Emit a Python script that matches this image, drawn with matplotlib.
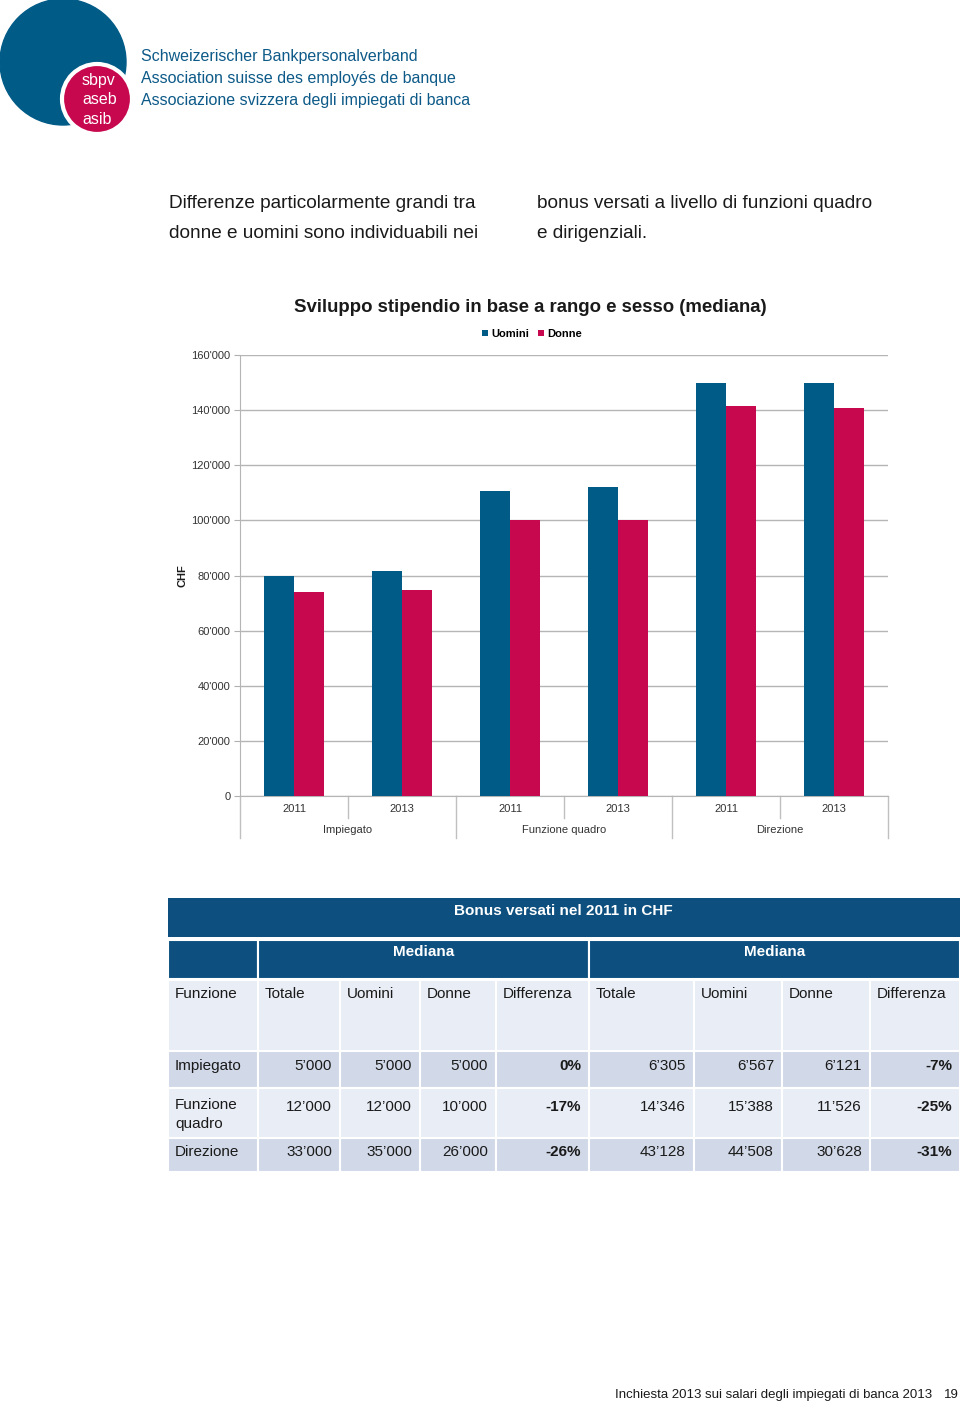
import numpy as np
import matplotlib.pyplot as plt
from matplotlib.patches import Circle, Rectangle
from matplotlib.ticker import FuncFormatter

W, H = 960, 1403
BLUE = '#015b87'
RED = '#c8084e'
TBLUE = '#0d5080'
LIGHT = '#e9edf5'
DARK = '#d1d8e7'

# chart data
groups = ['Impiegato', 'Funzione quadro', 'Direzione']
years = ['2011', '2013', '2011', '2013', '2011', '2013']
uomini = [79800, 81600, 110700, 112100, 149700, 149700]
donne = [74000, 74700, 100000, 100000, 141500, 140800]

# table data
tab_title = 'Bonus versati nel 2011 in CHF'
tab_head = ['Funzione', 'Totale', 'Uomini', 'Donne', 'Differenza',
            'Totale', 'Uomini', 'Donne', 'Differenza']
tab_rows = ['Impiegato', 'Funzione\nquadro', 'Direzione']
tab_vals = [
    ['5’000', '5’000', '5’000', '0%', '6’305', '6’567', '6’121', '-7%'],
    ['12’000', '12’000', '10’000', '-17%', '14’346', '15’388', '11’526', '-25%'],
    ['33’000', '35’000', '26’000', '-26%', '43’128', '44’508', '30’628', '-31%'],
]

plt.rcParams['font.family'] = ['Liberation Sans', 'DejaVu Sans']

fig = plt.figure(figsize=(W / 100, H / 100), dpi=100)
pg = fig.add_axes([0, 0, 1, 1])
pg.set_xlim(0, W)
pg.set_ylim(H, 0)
pg.axis('off')

# logo
pg.add_patch(Circle((63, 62), 63, color=BLUE))
pg.add_patch(Circle((97, 99), 35, facecolor=RED, edgecolor='white', lw=3))
for i, t in enumerate(['sbpv', 'aseb', 'asib']):
    pg.text(82, 81 + i * 19, t, color='white', fontsize=11.5, va='center')
for i, t in enumerate(['Schweizerischer Bankpersonalverband',
                       'Association suisse des employés de banque',
                       'Associazione svizzera degli impiegati di banca']):
    pg.text(141, 57 + i * 21.5, t, color='#0d5a88', fontsize=11.5, va='center')

# intro text
intro = dict(fontsize=13.7, va='center', color='#1a1a1a')
pg.text(169, 203, 'Differenze particolarmente grandi tra', **intro)
pg.text(169, 233, 'donne e uomini sono individuabili nei', **intro)
pg.text(537, 203, 'bonus versati a livello di funzioni quadro', **intro)
pg.text(537, 233, 'e dirigenziali.', **intro)

# chart
ax = fig.add_axes([240 / W, 1 - 796 / H, 648 / W, 441 / H])
x = np.arange(len(years))
b1 = ax.bar(x - 0.14, uomini, 0.28, color=BLUE, label='Uomini', zorder=3)
b2 = ax.bar(x + 0.14, donne, 0.28, color=RED, label='Donne', zorder=3)
ax.set_xlim(-0.5, 5.5)
ax.set_ylim(0, 160000)
ax.set_yticks(range(0, 160001, 20000))
ax.yaxis.set_major_formatter(FuncFormatter(lambda v, p: f"{int(v):,}".replace(',', "'")))
ax.tick_params(axis='y', labelsize=8, colors='#b0b0b0', labelcolor='#333333',
               length=4, pad=3)
ax.set_xticks([])
ax.grid(axis='y', color='#b5b5b5', lw=1, zorder=0)
for s in ['top', 'right']:
    ax.spines[s].set_visible(False)
ax.spines['left'].set_color('#b5b5b5')
ax.spines['bottom'].set_color('#b5b5b5')

tr = ax.get_xaxis_transform()
for i, y in enumerate(years):
    ax.text(i, -0.03, y, transform=tr, ha='center', va='center', fontsize=8,
            color='#333333')
for g, gname in enumerate(groups):
    ax.text(2 * g + 0.5, -0.076, gname, transform=tr, ha='center', va='center',
            fontsize=8, color='#333333')
for xs in [0.5, 2.5, 4.5]:
    ax.plot([xs, xs], [0, -0.05], transform=tr, color='#c0c0c0', lw=1, clip_on=False)
for xs in [-0.5, 1.5, 3.5, 5.5]:
    ax.plot([xs, xs], [0, -0.095], transform=tr, color='#c0c0c0', lw=1, clip_on=False)

pg.text(530, 308, 'Sviluppo stipendio in base a rango e sesso (mediana)',
        fontsize=13.4, fontweight='bold', ha='center', va='center', color='#1a1a1a')
pg.text(182, 576, 'CHF', rotation=90, fontsize=8, fontweight='bold',
        ha='center', va='center', color='#1a1a1a')
fig.legend(handles=[b1, b2], loc='center', bbox_to_anchor=(532 / W, 1 - 334 / H),
           ncol=2, frameon=False, handlelength=0.5, handleheight=0.5,
           handletextpad=0.3, columnspacing=0.8,
           prop={'size': 8, 'weight': 'bold'})

# table
edges = [168, 258, 340, 420, 496, 589, 694, 782, 870, 960]
pg.add_patch(Rectangle((168, 898), 792, 39, facecolor=TBLUE, edgecolor='none'))
pg.text(563, 911, tab_title, color='white', fontsize=11, fontweight='bold',
        ha='center', va='center')
for x0, x1, t in [(168, 258, ''), (258, 589, 'Mediana'), (589, 960, 'Mediana')]:
    pg.add_patch(Rectangle((x0, 940), x1 - x0, 39, facecolor=TBLUE,
                           edgecolor='white', lw=1.5))
    pg.text((x0 + x1) / 2, 952, t, color='white', fontsize=11, fontweight='bold',
            ha='center', va='center')

row_y = [(980, 1051), (1051, 1088), (1088, 1138), (1138, 1172)]
row_col = [LIGHT, DARK, LIGHT, DARK]
for r, (y0, y1) in enumerate(row_y):
    for c in range(len(edges) - 1):
        pg.add_patch(Rectangle((edges[c], y0), edges[c + 1] - edges[c], y1 - y0,
                               facecolor=row_col[r], edgecolor='white', lw=1.5))

for c, t in enumerate(tab_head):
    pg.text(edges[c] + 7, 994, t, fontsize=11, va='center', color='#1a1a1a')

text_y = [1066, 1107, 1152]
for r, name in enumerate(tab_rows):
    if '\n' in name:
        pg.text(175, text_y[r] - 9, name, fontsize=11, va='top',
                color='#1a1a1a', linespacing=1.45)
    else:
        pg.text(175, text_y[r], name, fontsize=11, va='center', color='#1a1a1a')
    for c, v in enumerate(tab_vals[r]):
        bold = c in (3, 7)
        pg.text(edges[c + 2] - 8, text_y[r], v, fontsize=11, ha='right', va='center',
                color='#1a1a1a', fontweight='bold' if bold else 'normal')

# footer
pg.text(932, 1395, 'Inchiesta 2013 sui salari degli impiegati di banca 2013',
        fontsize=9.5, ha='right', va='center', color='#1a1a1a')
pg.text(959, 1395, '19', fontsize=9.5, ha='right', va='center', color='#1a1a1a')

fig.savefig('out.png', dpi=100)
